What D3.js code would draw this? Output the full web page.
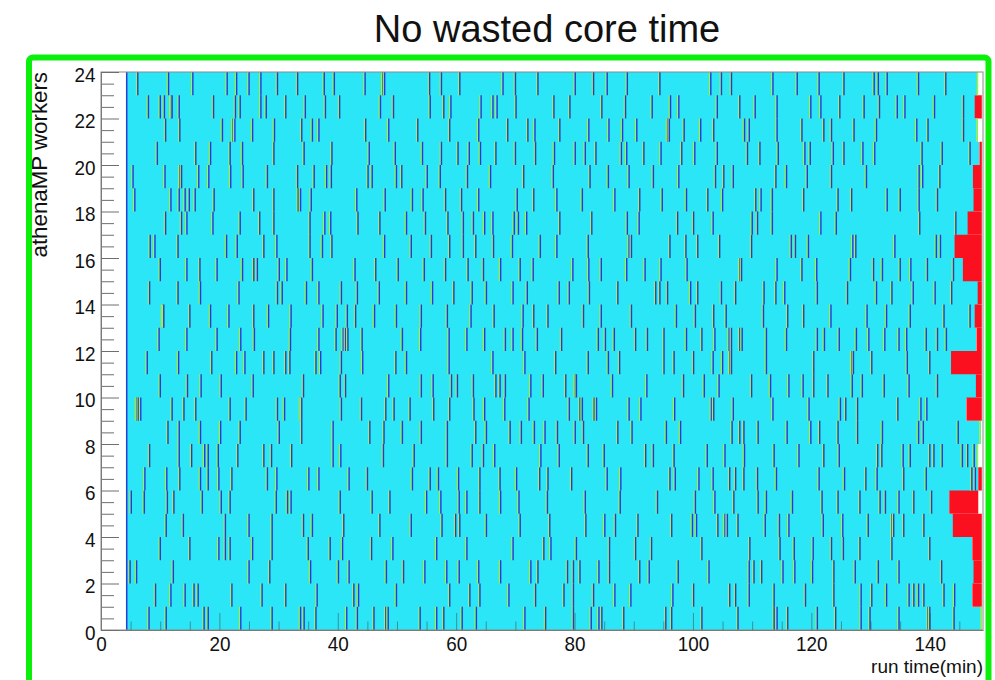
<!DOCTYPE html>
<html>
<head>
<meta charset="utf-8">
<script src="https://cdn.jsdelivr.net/npm/d3@7/dist/d3.min.js"></script>
<style>
  html, body { margin: 0; padding: 0; background: #ffffff; }
  svg { display: block; }
  text { font-family: "Liberation Sans", Arial, Helvetica, sans-serif; }
</style>
</head>
<body>
<svg id="chart" width="995" height="680"></svg>
<script>
// ---- data (minutes) ----
const title = "No wasted core time";
const xLabel = "run time(min)";
const yLabel = "athenaMP workers";
const xMajorTicks = [0, 20, 40, 60, 80, 100, 120, 140];
const yMajorTicks = [0, 2, 4, 6, 8, 10, 12, 14, 16, 18, 20, 22, 24];
const workers = [0, 1, 2, 3, 4, 5, 6, 7, 8, 9, 10, 11, 12, 13, 14, 15, 16, 17, 18, 19, 20, 21, 22, 23];

// time the workers start processing events
const jobStart = 4.3;
// end of the last processed event, per worker
const lastEventEnd = [148.8, 147.2, 147.4, 147.2, 143.9, 143.3, 148.2, 148.2, 148.6, 146.2, 147.8, 143.6,
                      147.9, 147.6, 148.1, 145.6, 144.2, 146.4, 147.4, 147.3, 148.4, 148.1, 147.6, 148.2];
// time the worker process is released, per worker (idle time shown in red)
const workerStop = [148.8, 148.8, 148.8, 148.8, 148.8, 148.2, 148.8, 148.2, 148.6, 148.8, 148.8, 148.8,
                    148.8, 148.8, 148.8, 148.8, 148.8, 148.8, 148.8, 148.8, 148.8, 148.1, 148.8, 148.2];

// event boundaries per worker (index = worker)
const eventBoundaries = [
  [8.0, 10.9, 17.3, 18.0, 23.5, 28.8, 33.6, 34.2, 36.2, 41.4, 43.2, 46.0, 48.0, 48.4, 53.8, 56.6, 57.8, 60.9, 63.3, 71.5, 75.0, 79.7, 82.7, 84.0, 84.5, 88.2, 95.3, 96.3, 101.4, 107.5, 113.6, 114.1, 115.9, 120.9, 124.0, 128.3, 129.8, 134.7, 139.6, 139.9, 144.0],
  [9.1, 11.7, 14.1, 15.6, 16.3, 22.0, 27.1, 31.1, 36.4, 42.6, 43.4, 49.8, 58.8, 62.2, 63.9, 68.8, 73.3, 78.1, 79.7, 83.1, 86.7, 89.4, 96.5, 100.0, 106.1, 107.1, 109.4, 113.6, 118.9, 123.7, 128.3, 130.1, 132.6, 136.4, 137.2, 138.0, 138.9, 142.3, 144.1],
  [4.8, 5.9, 12.1, 24.9, 28.4, 35.3, 40.0, 41.8, 48.1, 51.0, 54.6, 58.3, 60.4, 63.7, 67.4, 72.5, 73.7, 78.7, 79.7, 80.8, 84.0, 85.8, 90.9, 92.5, 97.4, 102.6, 109.4, 110.2, 111.5, 115.1, 117.1, 120.1, 123.7, 127.3, 131.2, 134.7, 141.9],
  [9.9, 14.9, 19.8, 20.9, 21.7, 25.5, 28.8, 34.9, 38.6, 40.7, 45.6, 49.2, 56.6, 61.7, 69.5, 74.7, 75.9, 80.2, 85.8, 90.2, 92.9, 101.4, 109.5, 114.6, 117.0, 120.2, 123.3, 125.3, 128.1, 133.5, 139.9],
  [10.9, 13.8, 20.9, 24.9, 28.8, 34.1, 35.6, 40.9, 47.0, 52.3, 57.5, 59.8, 60.5, 65.0, 70.7, 75.7, 81.8, 85.0, 86.8, 90.6, 96.3, 99.8, 100.5, 104.1, 105.3, 105.7, 107.5, 112.1, 114.5, 116.1, 121.9, 125.2, 129.5, 133.5, 133.8, 135.5, 138.9],
  [5.0, 7.2, 11.1, 12.2, 17.0, 20.2, 21.7, 29.5, 31.4, 32.0, 40.3, 45.7, 48.7, 54.9, 57.3, 60.4, 61.7, 63.9, 67.4, 70.5, 75.3, 81.7, 87.6, 93.9, 100.3, 103.6, 106.8, 110.9, 112.3, 116.7, 121.7, 124.4, 128.1, 131.5, 132.4, 134.7, 137.2, 140.2],
  [7.3, 11.0, 13.2, 16.7, 18.0, 19.8, 22.0, 28.0, 29.6, 35.0, 36.7, 41.8, 44.9, 52.5, 55.5, 56.9, 60.3, 63.9, 67.3, 70.1, 74.0, 75.4, 79.4, 85.4, 87.7, 96.0, 96.9, 100.9, 103.3, 106.1, 107.1, 108.5, 110.8, 114.0, 121.2, 125.5, 129.1, 131.0, 135.5, 139.3, 147.0, 147.6],
  [8.1, 13.1, 15.2, 17.4, 18.0, 19.7, 23.0, 27.4, 28.7, 32.1, 39.1, 40.4, 47.6, 52.8, 58.4, 62.6, 64.5, 66.4, 74.2, 77.3, 82.2, 84.9, 91.9, 93.2, 96.7, 102.3, 105.3, 108.6, 113.6, 117.8, 122.0, 124.6, 131.1, 131.8, 135.4, 136.6, 139.9, 140.6, 142.0, 145.4, 146.3, 147.4],
  [11.2, 13.1, 16.7, 20.1, 23.4, 30.0, 33.8, 39.1, 45.3, 47.7, 50.8, 54.0, 58.4, 63.2, 65.0, 69.0, 70.9, 73.1, 74.9, 77.0, 80.0, 81.4, 87.2, 89.6, 95.4, 97.8, 106.5, 107.8, 108.5, 110.9, 115.8, 119.8, 121.3, 124.4, 127.7, 131.9, 138.0, 138.8, 144.7],
  [5.9, 6.2, 6.6, 11.9, 13.9, 15.9, 21.7, 24.4, 29.7, 30.9, 33.6, 33.8, 40.5, 43.9, 48.0, 49.4, 52.1, 56.1, 58.8, 62.9, 64.7, 68.1, 72.2, 79.0, 80.8, 81.2, 83.2, 83.6, 89.1, 91.1, 96.8, 103.0, 103.4, 106.7, 113.4, 119.5, 124.8, 125.7, 127.7, 134.5, 138.4, 139.4],
  [9.9, 14.5, 16.8, 20.2, 25.6, 34.1, 40.3, 41.2, 48.5, 54.0, 56.0, 59.1, 60.1, 62.8, 66.6, 67.3, 68.2, 72.5, 74.6, 78.4, 80.0, 80.2, 86.3, 92.1, 98.3, 101.8, 104.3, 109.8, 113.0, 116.1, 118.5, 120.3, 122.7, 126.8, 128.5, 132.2, 136.4, 141.2],
  [7.7, 13.0, 18.6, 22.8, 24.2, 27.4, 29.1, 31.1, 31.8, 36.2, 37.0, 40.5, 44.1, 49.7, 51.5, 58.7, 66.1, 71.5, 76.7, 82.2, 85.6, 87.5, 95.0, 96.7, 100.0, 103.3, 104.9, 106.1, 106.4, 112.3, 120.3, 126.7, 127.0, 130.1, 136.1, 139.9],
  [9.7, 14.4, 19.5, 23.5, 25.8, 31.9, 36.7, 39.6, 40.8, 41.2, 41.6, 44.0, 50.8, 53.9, 58.7, 61.7, 64.7, 68.2, 69.5, 71.1, 73.6, 77.7, 83.9, 85.1, 86.6, 90.2, 92.2, 95.0, 98.8, 101.4, 103.6, 106.0, 106.4, 107.8, 108.2, 112.3, 115.7, 120.9, 122.1, 124.6, 127.5, 129.6, 132.3, 134.7, 136.0, 139.3, 141.2, 142.7],
  [10.3, 10.5, 14.9, 18.4, 21.5, 25.7, 28.2, 32.0, 37.4, 39.8, 41.5, 42.9, 46.1, 49.8, 54.0, 58.4, 62.4, 66.3, 71.2, 73.0, 75.4, 81.4, 84.4, 89.5, 97.1, 100.3, 103.4, 105.5, 111.8, 115.9, 118.6, 123.2, 129.3, 132.6, 136.6, 142.3, 146.7],
  [8.1, 12.9, 16.7, 23.2, 29.7, 30.5, 34.6, 36.7, 40.5, 43.2, 46.9, 51.5, 55.9, 59.5, 62.6, 65.0, 69.5, 71.9, 77.3, 79.0, 82.4, 87.2, 93.6, 94.3, 95.6, 99.5, 100.7, 104.7, 107.1, 111.9, 113.9, 115.4, 120.9, 126.0, 130.9, 133.5, 137.1, 140.8, 143.6],
  [9.9, 14.4, 16.6, 19.5, 23.8, 25.7, 26.3, 30.0, 31.3, 35.6, 42.8, 46.3, 50.1, 54.5, 58.1, 61.9, 64.5, 67.4, 70.7, 72.9, 79.6, 82.3, 84.4, 88.7, 91.8, 94.5, 98.9, 107.8, 108.1, 114.1, 118.3, 120.8, 126.5, 130.4, 131.9, 134.9, 136.7, 139.5, 143.9],
  [8.2, 9.0, 12.9, 21.1, 22.9, 27.4, 29.6, 35.2, 37.3, 38.9, 47.8, 52.3, 55.7, 58.8, 61.1, 63.2, 66.2, 69.4, 74.1, 76.9, 82.2, 89.1, 89.5, 96.0, 98.7, 100.7, 104.4, 109.8, 116.5, 117.2, 119.4, 126.9, 127.4, 134.0, 141.0, 141.7],
  [10.8, 13.5, 14.4, 18.8, 23.4, 26.7, 29.1, 35.2, 37.7, 38.7, 43.3, 47.0, 51.5, 54.7, 58.5, 61.1, 62.8, 64.7, 66.1, 69.7, 70.4, 71.8, 77.4, 82.8, 88.8, 90.8, 97.3, 100.0, 103.3, 109.9, 110.8, 113.3, 121.5, 124.1, 138.2, 144.3],
  [5.6, 11.7, 13.1, 14.1, 14.8, 15.8, 19.0, 25.7, 29.1, 33.2, 33.6, 35.4, 43.1, 47.9, 52.5, 54.3, 58.1, 60.8, 63.7, 70.2, 73.0, 76.9, 81.2, 86.7, 90.9, 94.7, 98.8, 102.4, 104.9, 110.5, 111.4, 113.3, 118.6, 124.4, 126.7, 132.7, 134.9, 138.1, 141.2],
  [5.3, 10.7, 13.2, 13.5, 16.4, 18.1, 21.8, 23.9, 28.0, 33.1, 35.9, 38.0, 38.8, 45.0, 45.7, 49.8, 50.7, 55.0, 57.2, 61.8, 65.7, 71.3, 76.3, 82.5, 85.6, 89.1, 93.2, 97.5, 103.7, 105.1, 106.7, 113.9, 115.7, 119.2, 123.3, 129.2, 138.1, 138.7, 141.6],
  [9.4, 15.9, 18.4, 21.7, 23.8, 29.1, 34.2, 38.9, 45.2, 49.6, 54.2, 57.4, 60.2, 62.1, 64.0, 66.6, 69.9, 73.3, 76.5, 80.0, 81.7, 83.5, 87.8, 88.7, 91.6, 94.5, 98.0, 100.2, 104.0, 109.1, 111.2, 114.3, 118.8, 119.7, 123.6, 125.4, 128.6, 130.6, 138.6, 142.0, 146.7],
  [10.8, 13.2, 20.4, 22.2, 22.5, 25.5, 29.2, 33.8, 35.6, 36.7, 44.6, 48.5, 53.4, 58.8, 63.7, 68.6, 72.0, 73.2, 77.4, 82.3, 85.7, 88.0, 90.4, 95.6, 95.9, 98.4, 101.2, 103.4, 108.6, 109.4, 114.1, 118.3, 122.0, 123.3, 127.1, 130.9, 137.7, 139.6, 145.6],
  [7.9, 9.9, 10.6, 11.7, 11.9, 13.1, 18.9, 22.6, 23.4, 26.9, 27.8, 31.1, 34.4, 37.8, 40.2, 47.1, 49.3, 55.5, 57.8, 59.0, 64.1, 66.1, 66.8, 70.0, 76.4, 79.1, 84.5, 88.5, 93.0, 96.1, 97.5, 104.0, 107.8, 110.4, 114.1, 119.8, 121.5, 124.7, 128.8, 131.4, 134.4, 135.7, 140.7, 145.6],
  [6.1, 11.3, 15.4, 21.2, 22.8, 24.9, 26.9, 29.7, 33.1, 37.6, 39.3, 44.5, 47.5, 47.8, 55.4, 57.4, 60.5, 67.8, 69.9, 73.7, 80.0, 83.1, 85.4, 88.8, 94.3, 102.9, 104.7, 106.4, 113.4, 117.5, 121.2, 125.4, 130.5, 131.2, 132.7, 138.0, 142.6]
];

// ---- drawing ----
const W = 995, H = 680;
const svg = d3.select("#chart");
svg.append("rect").attr("width", W).attr("height", H).attr("fill", "#ffffff");

const x = d3.scaleLinear().domain([0, 149]).range([101, 983]);
const y = d3.scaleLinear().domain([0, 24]).range([630, 72]);

const COL_BUSY = "#2be6f7";
const COL_IDLE = "#fa101e";
const COL_EDGE_A = "#a9ef3f";
const COL_EDGE_B = "#2b3cd6";
const LABEL_FONT = "Liberation Sans, Arial, sans-serif";

const rows = svg.append("g").attr("class", "rows");

// busy period per worker
rows.selectAll("rect.busy")
  .data(workers)
  .join("rect")
  .attr("class", "busy")
  .attr("x", d => x(jobStart))
  .attr("y", d => y(d + 1))
  .attr("width", d => x(lastEventEnd[d]) - x(jobStart))
  .attr("height", d => y(d) - y(d + 1))
  .attr("fill", COL_BUSY)
  .attr("shape-rendering", "crispEdges");

// idle tail per worker
rows.selectAll("rect.idle")
  .data(workers.filter(d => workerStop[d] > lastEventEnd[d]))
  .join("rect")
  .attr("class", "idle")
  .attr("x", d => x(lastEventEnd[d]))
  .attr("y", d => y(d + 1))
  .attr("width", d => x(workerStop[d]) - x(lastEventEnd[d]))
  .attr("height", d => y(d) - y(d + 1))
  .attr("fill", COL_IDLE);

// event boundaries: a light edge followed by a dark edge
const marks = [];
workers.forEach(w => eventBoundaries[w].forEach(t => marks.push({ w, t })));
const edges = rows.selectAll("g.edge")
  .data(marks)
  .join("g")
  .attr("class", "edge");
edges.append("rect")
  .attr("x", d => x(d.t) - 1.2)
  .attr("y", d => y(d.w + 1))
  .attr("width", 1.2)
  .attr("height", d => y(d.w) - y(d.w + 1))
  .attr("fill", COL_EDGE_A);
edges.append("rect")
  .attr("x", d => x(d.t))
  .attr("y", d => y(d.w + 1))
  .attr("width", 1.4)
  .attr("height", d => y(d.w) - y(d.w + 1))
  .attr("fill", COL_EDGE_B);

// closing boundary where a worker ends without idle time
rows.selectAll("rect.close")
  .data(workers.filter(d => workerStop[d] <= lastEventEnd[d]))
  .join("rect")
  .attr("class", "close")
  .attr("x", d => x(lastEventEnd[d]) - 1.5)
  .attr("y", d => y(d + 1))
  .attr("width", 1.5)
  .attr("height", d => y(d) - y(d + 1))
  .attr("fill", COL_EDGE_A);

// start line shared by all workers
rows.append("rect")
  .attr("x", x(jobStart) - 0.5)
  .attr("y", y(24))
  .attr("width", 1.5)
  .attr("height", y(0) - y(24))
  .attr("fill", COL_EDGE_B);

// frame
svg.append("rect")
  .attr("x", x(0)).attr("y", y(24))
  .attr("width", x(149) - x(0)).attr("height", y(0) - y(24))
  .attr("fill", "none").attr("stroke", "#8a8a8a").attr("stroke-width", 1);

// x axis: minor and major ticks drawn inward
const xMinor = d3.range(0, 149, 5);
svg.append("g")
  .attr("transform", `translate(0,${y(0)})`)
  .call(d3.axisBottom(x).tickValues(xMinor.filter(v => v % 20 !== 0)).tickSize(-8.5).tickSizeOuter(0).tickFormat(""))
  .call(g => g.select(".domain").remove())
  .call(g => g.selectAll("line").attr("stroke", "#4a4a4a").attr("stroke-opacity", 0.55));
const xAxis = svg.append("g")
  .attr("transform", `translate(0,${y(0)})`)
  .call(d3.axisBottom(x).tickValues(xMajorTicks).tickSize(-17).tickSizeOuter(0).tickPadding(6).tickFormat(d3.format("d")));
xAxis.select(".domain").attr("stroke", "#7a7a7a");
xAxis.selectAll("line").attr("stroke", "#4a4a4a").attr("stroke-opacity", 0.55);
xAxis.selectAll("text")
  .attr("font-size", 21).attr("fill", "#111").attr("font-family", LABEL_FONT)
  .attr("transform", "scale(0.9,1)");

// y axis: ticks every half worker, labels every two
const yMinor = d3.range(0, 24.01, 0.5).filter(v => v % 2 !== 0);
svg.append("g")
  .attr("transform", `translate(${x(0)},0)`)
  .call(d3.axisLeft(y).tickValues(yMinor).tickSize(-13).tickSizeOuter(0).tickFormat(""))
  .call(g => g.select(".domain").remove())
  .call(g => g.selectAll("line").attr("stroke", "#6e6e6e"));
const yAxis = svg.append("g")
  .attr("transform", `translate(${x(0)},0)`)
  .call(d3.axisLeft(y).tickValues(yMajorTicks).tickSize(-18).tickSizeOuter(0).tickPadding(6).tickFormat(d3.format("d")));
yAxis.select(".domain").attr("stroke", "#7a7a7a");
yAxis.selectAll("line").attr("stroke", "#6e6e6e");
yAxis.selectAll("text")
  .attr("font-size", 21).attr("fill", "#111").attr("dy", "0.45em").attr("font-family", LABEL_FONT)
  .attr("transform", "scale(0.9,1)");

// axis titles
svg.append("text")
  .attr("x", x(149)).attr("y", 673)
  .attr("text-anchor", "end")
  .attr("font-size", 19).attr("fill", "#111")
  .text(xLabel);
svg.append("text")
  .attr("transform", `translate(47,${y(24)}) rotate(-90)`)
  .attr("text-anchor", "end")
  .attr("font-size", 22.3).attr("fill", "#111")
  .text(yLabel);

// chart title
svg.append("text")
  .attr("x", 547).attr("y", 42)
  .attr("text-anchor", "middle")
  .attr("font-size", 38).attr("fill", "#111")
  .text(title);

// outer highlight frame
svg.append("rect")
  .attr("x", 29).attr("y", 57.5)
  .attr("width", 959.5).attr("height", 700)
  .attr("rx", 4)
  .attr("fill", "none")
  .attr("stroke", "#0af00a")
  .attr("stroke-width", 6);
</script>
</body>
</html>
